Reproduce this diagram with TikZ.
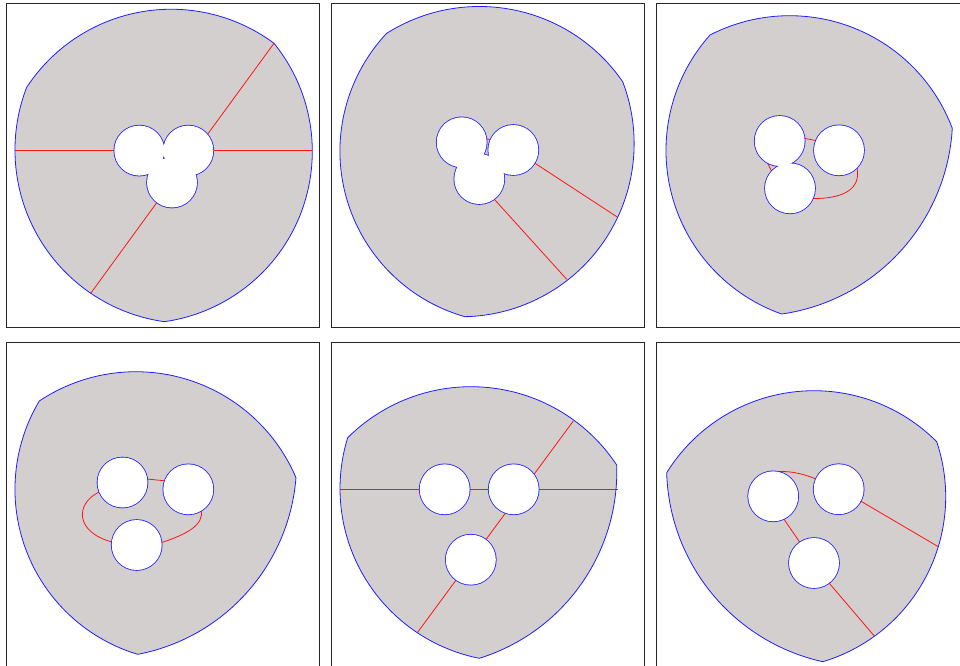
\documentclass[tikz,border=0pt]{standalone}
\usepackage{tikz}
\definecolor{bodygray}{RGB}{211,207,207}
\definecolor{rimblue}{RGB}{30,30,255}
\definecolor{cutred}{RGB}{255,20,20}

% arc through three points (pixel coords, y down): defines \csname #1\endcsname as an arc op
\newcommand\mkarc[7]{%
  \pgfmathsetmacro\ArcBx{(#4-#2)/100}%
  \pgfmathsetmacro\ArcBy{-(#5-#3)/100}%
  \pgfmathsetmacro\ArcCx{(#6-#2)/100}%
  \pgfmathsetmacro\ArcCy{-(#7-#3)/100}%
  \pgfmathsetmacro\ArcD{2*((\ArcBx)*(\ArcCy)-(\ArcBy)*(\ArcCx))}%
  \pgfmathsetmacro\ArcBB{(\ArcBx)*(\ArcBx)+(\ArcBy)*(\ArcBy)}%
  \pgfmathsetmacro\ArcCC{(\ArcCx)*(\ArcCx)+(\ArcCy)*(\ArcCy)}%
  \pgfmathsetmacro\ArcUx{((\ArcCy)*(\ArcBB)-(\ArcBy)*(\ArcCC))/(\ArcD)}%
  \pgfmathsetmacro\ArcUy{((\ArcBx)*(\ArcCC)-(\ArcCx)*(\ArcBB))/(\ArcD)}%
  \pgfmathsetmacro\ArcR{100*sqrt((\ArcUx)*(\ArcUx)+(\ArcUy)*(\ArcUy))}%
  \pgfmathsetmacro\ArcAs{atan2(-(\ArcUy),-(\ArcUx))}%
  \pgfmathsetmacro\ArcAm{atan2((\ArcBy)-(\ArcUy),(\ArcBx)-(\ArcUx))}%
  \pgfmathsetmacro\ArcAe{atan2((\ArcCy)-(\ArcUy),(\ArcCx)-(\ArcUx))}%
  \pgfmathsetmacro\ArcDm{mod((\ArcAm)-(\ArcAs)+720,360)}%
  \pgfmathsetmacro\ArcDe{mod((\ArcAe)-(\ArcAs)+720,360)}%
  \pgfmathsetmacro\ArcEnd{ifthenelse((\ArcDm)<(\ArcDe),(\ArcAs)+(\ArcDe),(\ArcAs)+(\ArcDe)-360)}%
  \expandafter\xdef\csname #1\endcsname{arc[start angle=\ArcAs,end angle=\ArcEnd,radius=\ArcR pt]}%
}

\tikzset{
  body/.style={fill=bodygray},
  rim/.style={draw=rimblue, line width=0.8pt, line join=round},
  cut/.style={draw=cutred, line width=0.8pt},
  holeedge/.style={draw=rimblue, line width=1.6pt},
  holefill/.style={fill=white},
  frame/.style={draw=black!85, line width=1pt},
}

\newcommand\holes[3]{%
  \foreach \hc in {#1,#2,#3} \path[holeedge] \hc circle[radius=25pt];
  \foreach \hc in {#1,#2,#3} \path[holefill] \hc circle[radius=25pt];
}

\begin{document}
\begin{tikzpicture}[x=1pt,y=-1pt]
\useasboundingbox (0,0) rectangle (960,665);
\clip (0,0) rectangle (960,665);

% ---------- frames
\draw[frame] (6,3.3) rectangle (319.3,327);
\draw[frame] (331,3.3) rectangle (644.3,327);
\draw[frame] (656,3.3) rectangle (969.3,327);
\draw[frame] (6,342.3) rectangle (319.3,666.5);
\draw[frame] (331,342.3) rectangle (644.3,666.5);
\draw[frame] (656,342.3) rectangle (969.3,666.5);

% ---------- panel 1
\coordinate (p1a) at (139.3,150.6);
\coordinate (p1b) at (188.3,150.6);
\coordinate (p1c) at (172,182.5);
\mkarc{aOneT}{26.7}{87.3}{166.7}{9.3}{274}{43.3}
\mkarc{aOneR}{274}{43.3}{312.3}{150.7}{164.3}{321.7}
\mkarc{aOneL}{164.3}{321.7}{15}{150.7}{26.7}{87.3}
\path[body] (26.7,87.3) \aOneT \aOneR \aOneL -- cycle;
\draw[cut] (15,150.6) -- (p1a);
\draw[cut] (p1b) -- (312.3,150.6);
\draw[cut] (274,43.3) -- (199.9,144.8);
\draw[cut] (90.7,293.3) -- (164.9,191.5);
\path[rim] (26.7,87.3) \aOneT \aOneR \aOneL -- cycle;
\holes{(p1a)}{(p1b)}{(p1c)}

% ---------- panel 2
\coordinate (p2a) at (461.7,142.3);
\coordinate (p2b) at (513.3,150);
\coordinate (p2c) at (479.3,179);
\mkarc{aTwoT}{386.7}{33.3}{478.3}{6.5}{622.7}{81.7}
\mkarc{aTwoR}{622.7}{81.7}{617.7}{217.3}{465}{316.7}
\mkarc{aTwoL}{465}{316.7}{340}{150}{386.7}{33.3}
\path[body] (386.7,33.3) \aTwoT \aTwoR \aTwoL -- cycle;
\draw[cut] (478,137) -- (497,141);
\draw[cut] (518.5,152.5) -- (617.7,217.3);
\draw[cut] (487.1,191.3) -- (566.7,279.3);
\path[rim] (386.7,33.3) \aTwoT \aTwoR \aTwoL -- cycle;
\holes{(p2a)}{(p2b)}{(p2c)}

% ---------- panel 3
\coordinate (p3a) at (779.7,141);
\coordinate (p3b) at (839,150.3);
\coordinate (p3c) at (790,188.3);
\mkarc{aThrT}{710}{35}{791.7}{15.7}{952.3}{128.3}
\mkarc{aThrR}{952.3}{128.3}{900.1}{251.6}{781.7}{314}
\mkarc{aThrL}{781.7}{314}{666}{150}{710}{35}
\path[body] (710,35) \aThrT \aThrR \aThrL -- cycle;
\draw[cut] (790,135.5) -- (830,143.3);
\draw[cut] (762,152) -- (776,180);
\draw[cut] (857,168) .. controls (861,188) and (845,199) .. (812,198.5);
\path[rim] (710,35) \aThrT \aThrR \aThrL -- cycle;
\holes{(p3a)}{(p3b)}{(p3c)}

% ---------- panel 4
\coordinate (p4a) at (122.5,482.5);
\coordinate (p4b) at (188.3,489.3);
\coordinate (p4c) at (136.7,545);
\mkarc{aFouT}{39.3}{401}{135}{371.7}{296}{477.7}
\mkarc{aFouR}{296}{477.7}{246.7}{592.7}{137.7}{654.3}
\mkarc{aFouL}{137.7}{654.3}{15}{488.3}{39.3}{401}
\path[body] (39.3,401) \aFouT \aFouR \aFouL -- cycle;
\draw[cut] (135,477.8) -- (176,481.9);
\draw[cut] (99,492) .. controls (75,504) and (75,532) .. (112,542);
\draw[cut] (201,510) .. controls (205,525) and (185,535) .. (161,542.7);
\path[rim] (39.3,401) \aFouT \aFouR \aFouL -- cycle;
\holes{(p4a)}{(p4b)}{(p4c)}

% ---------- panel 5
\coordinate (p5a) at (444.7,489.3);
\coordinate (p5b) at (513.7,489.3);
\coordinate (p5c) at (470.8,559.7);
\mkarc{aFivT}{347.7}{437.7}{468.3}{386.7}{616.7}{465}
\mkarc{aFivR}{616.7}{465}{580.6}{584.9}{479.3}{658.3}
\mkarc{aFivL}{479.3}{658.3}{417.3}{632.7}{347.7}{437.7}
\path[body] (347.7,437.7) \aFivT \aFivR \aFivL -- cycle;
\draw[cut] (340,489.3) -- (617.7,489.3);
\draw[cut] (573.3,421) -- (417.3,632.7);
\path[rim] (347.7,437.7) \aFivT \aFivR \aFivL -- cycle;
\holes{(p5a)}{(p5b)}{(p5c)}

% ---------- panel 6
\coordinate (p6a) at (773.2,496.3);
\coordinate (p6b) at (838.7,489.2);
\coordinate (p6c) at (814,563);
\mkarc{aSixT}{666.7}{472.7}{813.3}{390.7}{936.7}{441.7}
\mkarc{aSixR}{936.7}{441.7}{938.3}{546.7}{822.7}{661.7}
\mkarc{aSixL}{822.7}{661.7}{712.3}{594}{666.7}{472.7}
\path[body] (666.7,472.7) \aSixT \aSixR \aSixL -- cycle;
\draw[cut] (779,471.5) .. controls (792,471) and (806,474.5) .. (817,479.5);
\draw[cut] (776,507.6) -- (806,551.3);
\draw[cut] (849,494.2) -- (938.3,546.7);
\draw[cut] (820,572.4) -- (874.3,636);
\path[rim] (666.7,472.7) \aSixT \aSixR \aSixL -- cycle;
\holes{(p6a)}{(p6b)}{(p6c)}

\end{tikzpicture}
\end{document}
